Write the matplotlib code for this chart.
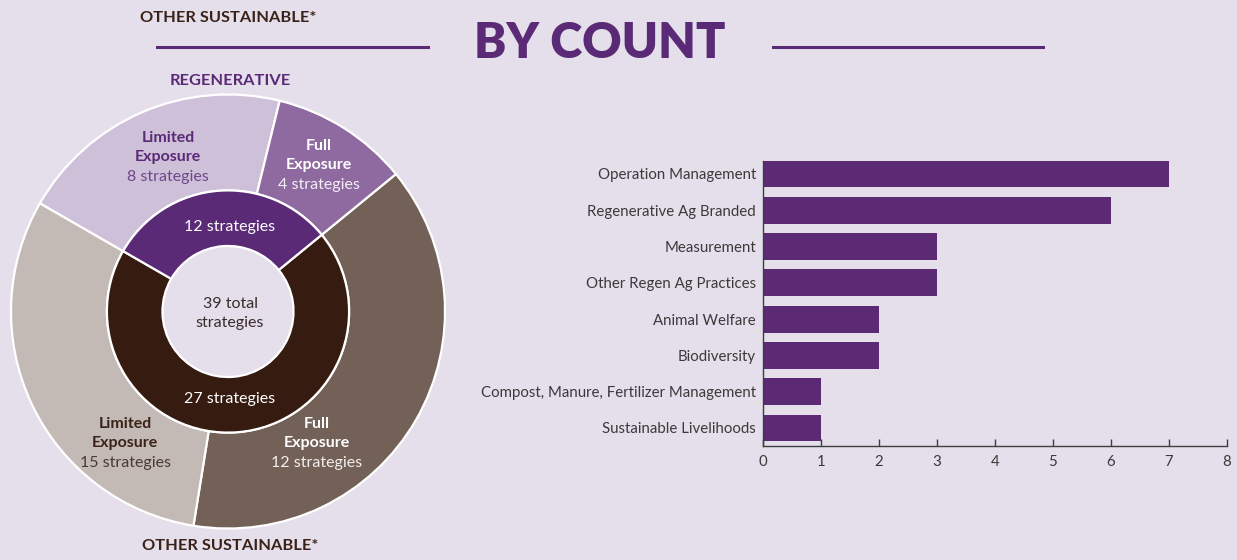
import matplotlib.pyplot as plt
from matplotlib.lines import Line2D

plt.rcParams['font.family'] = ['Lato', 'DejaVu Sans']

# bar chart data
categories = ['Operation Management', 'Regenerative Ag Branded', 'Measurement',
              'Other Regen Ag Practices', 'Animal Welfare', 'Biodiversity',
              'Compost, Manure, Fertilizer Management', 'Sustainable Livelihoods']
counts = [7, 6, 3, 3, 2, 2, 1, 1]
x_ticks = [0, 1, 2, 3, 4, 5, 6, 7, 8]

# donut data (wedges as drawn, clockwise from the right-hand side)
outer_groups = ['Other Sustainable - Full', 'Other Sustainable - Limited',
                'Regenerative - Limited', 'Regenerative - Full']
outer_sizes = [15, 12, 8, 4]
inner_groups = ['Other Sustainable', 'Regenerative']
inner_sizes = [27, 12]
total = 39

bg = '#e4dfeb'
purple = '#5b2a76'
brown_txt = '#3b2218'

W, H = 1237, 560
fig = plt.figure(figsize=(W / 100, H / 100), dpi=100, facecolor=bg)


def fx(px):
    return px / W


def fy(py):
    return 1 - py / H


# title with side rules
fig.text(fx(600), fy(57.5), 'BY COUNT', ha='center', va='baseline',
         fontsize=35, fontweight='heavy', color=purple)
fig.add_artist(Line2D([fx(157), fx(428)], [fy(47), fy(47)], color=purple, lw=2.2))
fig.add_artist(Line2D([fx(773), fx(1043)], [fy(47), fy(47)], color=purple, lw=2.2))

# donut
cx, cy, r_px = 228, 311.5, 217
half = 225
ax = fig.add_axes([fx(cx - half), fy(cy + half), 2 * half / W, 2 * half / H])
ax.set_facecolor('none')
outer_colors = ['#736057', '#c3bab6', '#cfc0da', '#8e6aa0']
inner_colors = ['#361b11', purple]
ax.pie(outer_sizes, radius=1, startangle=39.3, counterclock=False, colors=outer_colors,
       wedgeprops=dict(width=0.442, edgecolor='white', linewidth=1.6))
ax.pie(inner_sizes, radius=0.558, startangle=39.3, counterclock=False, colors=inner_colors,
       wedgeprops=dict(width=0.256, edgecolor='white', linewidth=1.6))
R = half / r_px
ax.set_xlim(-R, R)
ax.set_ylim(-R, R)
ax.set_aspect('equal')
ax.axis('off')


def dx(px):
    return (px - cx) / r_px


def dy(py):
    # small shift so the letters sit where the reference has them
    return (cy - py - 1.5) / r_px


fs = 11.5
labels = [
    (168, [136, 156, 175], ['Limited', 'Exposure', '8 strategies'], purple, '#6e4789'),
    (319, [145, 164, 183], ['Full', 'Exposure', '4 strategies'], 'white', '#f3eef6'),
    (125, [423, 442, 461], ['Limited', 'Exposure', '15 strategies'], brown_txt, '#4a3a35'),
    (317, [423, 442, 461], ['Full', 'Exposure', '12 strategies'], 'white', '#f3efed'),
]
for x, ys, lines, c1, c2 in labels:
    ax.text(dx(x), dy(ys[0]), lines[0], ha='center', va='center', fontsize=fs,
            fontweight='bold', color=c1)
    ax.text(dx(x), dy(ys[1]), lines[1], ha='center', va='center', fontsize=fs,
            fontweight='bold', color=c1)
    ax.text(dx(x), dy(ys[2]), lines[2], ha='center', va='center', fontsize=fs,
            color=c2)

ax.text(dx(230), dy(225), f'{inner_sizes[1]} strategies', ha='center', va='center',
        fontsize=fs, color='white')
ax.text(dx(230), dy(398), f'{inner_sizes[0]} strategies', ha='center', va='center',
        fontsize=fs, color='white')
ax.text(dx(230), dy(302), f'{total} total', ha='center', va='center',
        fontsize=fs, color='#3a2c2c')
ax.text(dx(230), dy(321), 'strategies', ha='center', va='center',
        fontsize=fs, color='#3a2c2c')

fig.text(fx(230), fy(81), 'REGENERATIVE', ha='center', va='center',
         fontsize=11.8, fontweight='bold', color=purple)
fig.text(fx(230), fy(545.5), 'OTHER SUSTAINABLE*', ha='center', va='center',
         fontsize=11.8, fontweight='bold', color=brown_txt)
fig.text(fx(228), fy(18), 'OTHER SUSTAINABLE*', ha='center', va='center',
         fontsize=11.8, fontweight='bold', color=brown_txt)

# bar chart
ax2 = fig.add_axes([fx(763), fy(445.6), (1227 - 763) / W, (445.6 - 161) / H])
ax2.set_facecolor('none')
ax2.barh(range(len(categories)), counts, height=0.74, color='#5c2a75')
ax2.set_xlim(0, 8)
ax2.set_ylim(7.485, -0.355)
ax2.set_xticks(x_ticks)
ax2.set_yticks(range(len(categories)))
ax2.set_yticklabels(categories)
for s in ['top', 'right']:
    ax2.spines[s].set_visible(False)
for s in ['left', 'bottom']:
    ax2.spines[s].set_color('#3d3d3d')
    ax2.spines[s].set_linewidth(1.0)
ax2.tick_params(axis='x', direction='in', length=5, width=1.0, color='#3d3d3d',
                pad=7, labelsize=10.8, labelcolor='#3a3a3a')
ax2.tick_params(axis='y', length=0, pad=5, labelsize=10.8, labelcolor='#3a3a3a')

fig.savefig('out.png', dpi=100, facecolor=bg)
